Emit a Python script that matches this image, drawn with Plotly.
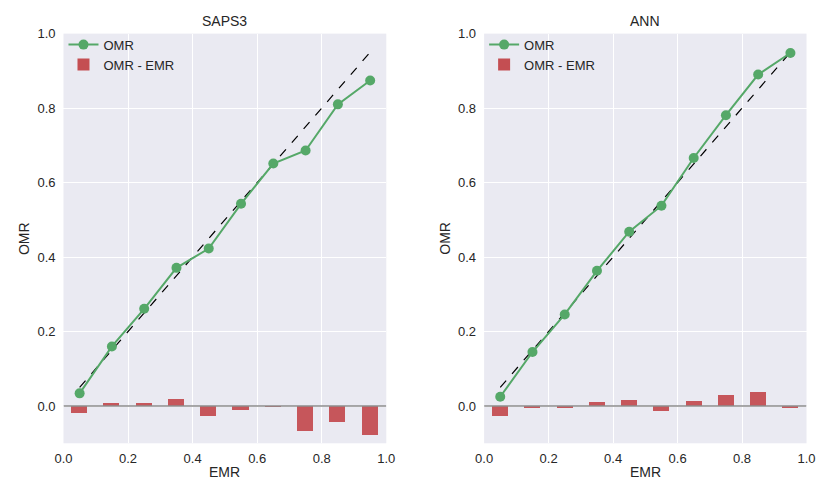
import plotly.graph_objects as go

# ---- data ----
bins = [0.05, 0.15, 0.25, 0.35, 0.45, 0.55, 0.65, 0.75, 0.85, 0.95]
saps3_omr = [0.034, 0.160, 0.261, 0.371, 0.423, 0.543, 0.651, 0.686, 0.810, 0.874]
saps3_diff = [-0.017, 0.008, 0.010, 0.020, -0.027, -0.010, 0.001, -0.066, -0.043, -0.078]
ann_omr = [0.025, 0.145, 0.246, 0.363, 0.468, 0.538, 0.666, 0.781, 0.890, 0.948]
ann_diff = [-0.025, -0.005, -0.005, 0.012, 0.017, -0.013, 0.014, 0.030, 0.038, -0.003]
diag = [0.05, 0.95]
titles = ["SAPS3", "ANN"]
xticks = [0.0, 0.2, 0.4, 0.6, 0.8, 1.0]
yticks = [0.0, 0.2, 0.4, 0.6, 0.8, 1.0]

GREEN = "#55A868"
RED = "#C44E52"
BG = "#EAEAF2"
TXT = "#262626"
FONT = "Liberation Sans, Arial, sans-serif"

W, H = 826, 482
xdoms = [(55.7 / W, 385.7 / W), (485.7 / W, 815.3 / W)]
ydom = ((482 - 442.7) / H, (482 - 27.0) / H)

fig = go.Figure()
panels = [(saps3_omr, saps3_diff), (ann_omr, ann_diff)]
for i, (omr, diff) in enumerate(panels):
    xa = "x" if i == 0 else "x2"
    ya = "y" if i == 0 else "y2"
    lg = "legend" if i == 0 else "legend2"
    fig.add_trace(go.Bar(x=bins, y=diff, width=0.05, marker=dict(color=RED, opacity=0.95, line=dict(width=0)),
                         name="OMR - EMR", xaxis=xa, yaxis=ya, legend=lg, legendrank=2))
    fig.add_trace(go.Scatter(x=[0, 1], y=[0, 0], mode="lines", line=dict(color="#8c8c8c", width=1.5),
                             showlegend=False, xaxis=xa, yaxis=ya, hoverinfo="skip"))
    fig.add_trace(go.Scatter(x=diag, y=diag, mode="lines", line=dict(color="black", width=1.2, dash="dash"),
                             showlegend=False, xaxis=xa, yaxis=ya))
    fig.add_trace(go.Scatter(x=bins, y=omr, mode="lines+markers", line=dict(color=GREEN, width=2),
                             marker=dict(color=GREEN, size=10), name="OMR", xaxis=xa, yaxis=ya,
                             legend=lg, legendrank=1))

axis_common = dict(showgrid=True, gridcolor="white", gridwidth=1, zeroline=False, showline=False,
                   ticks="", tickfont=dict(size=13, color=TXT, family=FONT), fixedrange=True)

def xax(dom, anchor):
    return dict(domain=dom, range=[0, 1], tickvals=xticks, ticktext=[f"{v:.1f}" for v in xticks],
                anchor=anchor, ticklabelstandoff=6, **axis_common)

def yax(anchor):
    return dict(domain=ydom, range=[-0.1, 1.0], tickvals=yticks, ticktext=[f"{v:.1f}" for v in yticks],
                anchor=anchor, ticklabelstandoff=7, **axis_common)

leg_common = dict(xanchor="left", yanchor="top", bgcolor="rgba(0,0,0,0)",
                  font=dict(size=13, color=TXT, family=FONT), tracegroupgap=0)

fig.update_layout(
    width=W, height=H, margin=dict(l=0, r=0, t=0, b=0),
    paper_bgcolor="white", plot_bgcolor=BG, bargap=0,
    font=dict(family=FONT, color=TXT, size=13),
    xaxis=xax(xdoms[0], "y"), yaxis=yax("x"),
    xaxis2=xax(xdoms[1], "y2"), yaxis2=yax("x2"),
    legend=dict(x=xdoms[0][0] + 0.0, y=1 - 23 / H, **leg_common),
    legend2=dict(x=xdoms[1][0] + 0.0, y=1 - 23 / H, **leg_common),
    showlegend=True,
)

annots = []
for i in range(2):
    cx = (xdoms[i][0] + xdoms[i][1]) / 2
    annots.append(dict(text=titles[i], x=cx, y=1 - 14 / H, xref="paper", yref="paper", showarrow=False,
                       font=dict(size=14, color=TXT, family=FONT), xanchor="center", yanchor="middle"))
    annots.append(dict(text="EMR", x=cx, y=1 - 472 / H, xref="paper", yref="paper", showarrow=False,
                       font=dict(size=14, color=TXT, family=FONT), xanchor="center", yanchor="middle"))
    lx = 16 / W if i == 0 else 446 / W
    annots.append(dict(text="OMR", x=lx, y=(ydom[0] + ydom[1]) / 2, xref="paper", yref="paper", showarrow=False,
                       textangle=-90, font=dict(size=14, color=TXT, family=FONT), xanchor="center", yanchor="middle"))
fig.update_layout(annotations=annots)

fig.write_html("out.html")
